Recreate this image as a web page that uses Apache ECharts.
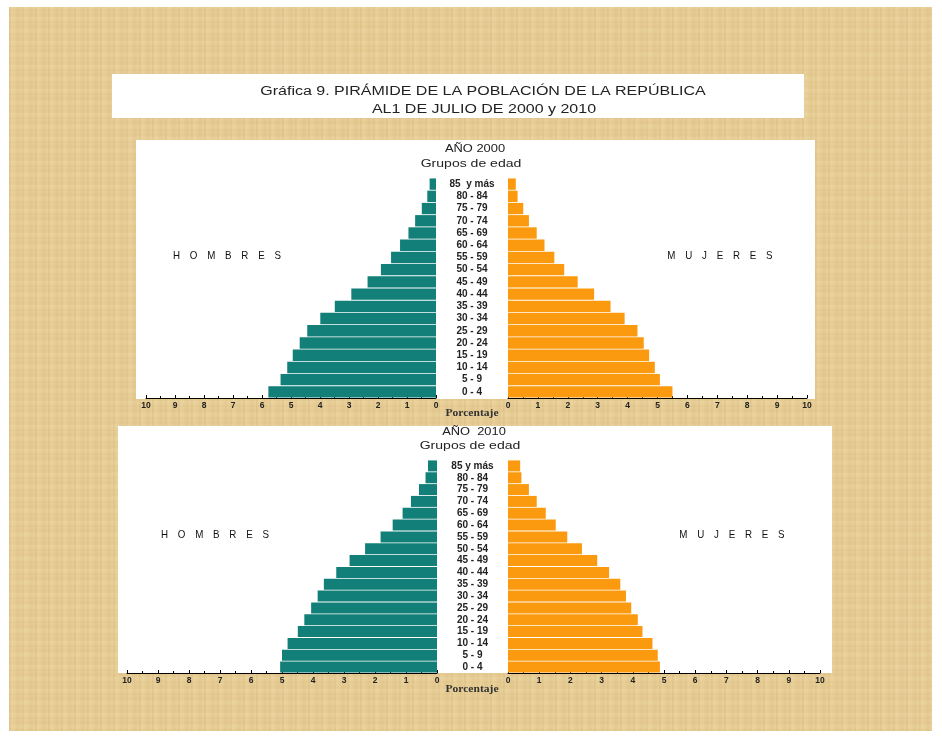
<!DOCTYPE html>
<html>
<head>
<meta charset="utf-8">
<script src="https://cdn.jsdelivr.net/npm/echarts@6/dist/echarts.min.js"></script>
<style>
html,body{margin:0;padding:0;background:#fff;}
#frame{position:absolute;left:9px;top:7px;width:923px;height:724px;
background-color:#e7cd95;
background-image:
 repeating-linear-gradient(90deg, rgba(170,130,60,0.10) 0px, rgba(170,130,60,0.10) 1px, rgba(255,240,200,0.12) 3px, rgba(255,240,200,0.0) 6px, rgba(170,130,60,0.07) 9px, rgba(255,240,200,0.05) 13px),
 repeating-linear-gradient(0deg, rgba(170,130,60,0.08) 0px, rgba(170,130,60,0.0) 2px, rgba(255,240,200,0.12) 5px, rgba(170,130,60,0.06) 8px, rgba(255,240,200,0.04) 12px);
}
#chart{position:absolute;left:0;top:0;width:942px;height:739px;}
</style>
</head>
<body>
<div id="frame"></div>
<div id="chart"></div>
<script>
// Data (bottom group first)
var categories = ['0 - 4','5 - 9','10 - 14','15 - 19','20 - 24','25 - 29','30 - 34','35 - 39','40 - 44','45 - 49','50 - 54','55 - 59','60 - 64','65 - 69','70 - 74','75 - 79','80 - 84','85  y más'];
var categories2010 = ['0 - 4','5 - 9','10 - 14','15 - 19','20 - 24','25 - 29','30 - 34','35 - 39','40 - 44','45 - 49','50 - 54','55 - 59','60 - 64','65 - 69','70 - 74','75 - 79','80 - 84','85 y más'];
var hombres2000 = [5.78,5.36,5.13,4.94,4.70,4.44,3.99,3.49,2.92,2.36,1.90,1.55,1.24,0.95,0.72,0.49,0.30,0.22];
var mujeres2000 = [5.50,5.08,4.91,4.72,4.54,4.33,3.90,3.43,2.88,2.33,1.88,1.55,1.22,0.96,0.70,0.51,0.32,0.26];
var hombres2010 = [5.06,5.00,4.82,4.49,4.28,4.06,3.85,3.65,3.25,2.82,2.32,1.82,1.43,1.11,0.84,0.58,0.37,0.29];
var mujeres2010 = [4.87,4.80,4.63,4.31,4.16,3.95,3.78,3.60,3.24,2.86,2.37,1.90,1.53,1.21,0.92,0.67,0.43,0.39];
var tickLabels = ['0','1','2','3','4','5','6','7','8','9','10'];

var TEAL = '#128079', ORANGE = '#fb9a0e';
var chart = echarts.init(document.getElementById('chart'), null, {renderer:'canvas'});

function xAx(gi, inverse){
  return {
    gridIndex: gi, type:'value', min:0, max:10, interval:1, inverse: inverse,
    axisLine:{show:true, lineStyle:{color:'#000', width:1}},
    axisTick:{show:true, inside:true, length:3, lineStyle:{color:'#000'}},
    minorTick:{show:true, splitNumber:2, length:2, lineStyle:{color:'#000'}},
    splitLine:{show:false},
    axisLabel:{margin:3, fontSize:8.5, fontWeight:'bold', color:'#222', fontFamily:'Liberation Sans, Arial',
      formatter:function(v){return tickLabels[Math.round(v)];}}
  };
}
function yAx(gi, cats, showLabels, margin){
  return {
    gridIndex: gi, type:'category', data: cats,
    axisLine:{show:false}, axisTick:{show:false}, splitLine:{show:false},
    axisLabel:{show:showLabels, interval:0, margin: margin, align:'center', fontSize:10, color:'#222',
      fontFamily:'Liberation Sans, Arial', fontWeight:'bold'}
  };
}
function barS(xi, data, color){
  return {type:'bar', xAxisIndex:xi, yAxisIndex:xi, data:data, barCategoryGap:'7%',
    itemStyle:{color:color}, silent:true, animation:false};
}
var txt = function(x,y,t,size,opt){
  opt = opt||{};
  return {type:'text', x:x, y:y, scaleX: opt.sx || 1, silent:true, z:10, style:{text:t, fontSize:size,
    fontFamily: opt.ff || 'Liberation Sans, Arial', fontWeight: opt.fw || 'normal',
    fill: opt.fill || '#222', textAlign: opt.align || 'center', textVerticalAlign:'middle'}};
};
var rect = function(x,y,w,h){return {type:'rect', shape:{x:x,y:y,width:w,height:h}, style:{fill:'#fff'}, z:-10, silent:true};};
var SP = '\u2003';
var spaced = function(s){return s.split('').join(SP);};

chart.setOption({
  animation:false,
  backgroundColor:'transparent',
  grid:[
    {left:146, width:290, top:178, height:220},
    {left:508, width:299, top:178, height:220},
    {left:127, width:310, top:460, height:213},
    {left:508, width:312, top:460, height:213}
  ],
  xAxis:[xAx(0,true), xAx(1,false), xAx(2,true), xAx(3,false)],
  yAxis:[yAx(0,categories,false,0), yAx(1,categories,true,36), yAx(2,categories2010,false,0), yAx(3,categories2010,true,35.5)],
  series:[barS(0,hombres2000,TEAL), barS(1,mujeres2000,ORANGE), barS(2,hombres2010,TEAL), barS(3,mujeres2010,ORANGE)],
  graphic:[
    rect(112,74,692,44),
    rect(136,140,679,259),
    rect(118,426,714,247),
    txt(483,92,'Gráfica 9. PIRÁMIDE DE LA POBLACIÓN DE LA REPÚBLICA',12.5,{sx:1.28}),
    txt(484,110,'AL1 DE JULIO DE 2000 y 2010',12.5,{sx:1.28}),
    txt(475,149,'AÑO 2000',11,{sx:1.17}),
    txt(471,164,'Grupos de edad',11.5,{sx:1.22}),
    txt(227,256,spaced('HOMBRES'),10.5,{sx:0.93, fill:'#111'}),
    txt(720,256,spaced('MUJERES'),10.5,{sx:0.93, fill:'#111'}),
    txt(472,413,'Porcentaje',10.5,{ff:'Liberation Serif, Times New Roman', fw:'bold', fill:'#333', sx:1.1}),
    txt(474,432,'AÑO  2010',11,{sx:1.17}),
    txt(470,446,'Grupos de edad',11.5,{sx:1.22}),
    txt(215,535,spaced('HOMBRES'),10.5,{sx:0.93, fill:'#111'}),
    txt(732,535,spaced('MUJERES'),10.5,{sx:0.93, fill:'#111'}),
    txt(472,689,'Porcentaje',10.5,{ff:'Liberation Serif, Times New Roman', fw:'bold', fill:'#333', sx:1.1})
  ]
});
</script>
</body>
</html>
